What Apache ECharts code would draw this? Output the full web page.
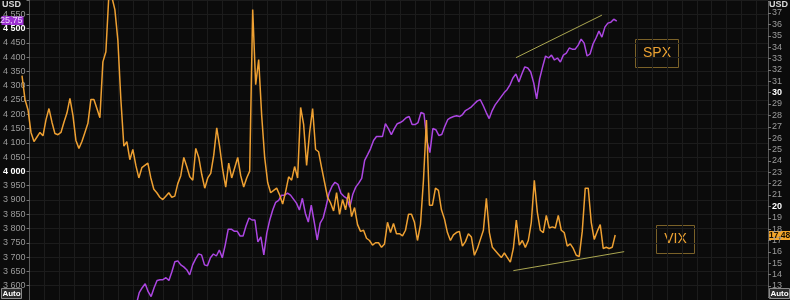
<!DOCTYPE html>
<html>
<head>
<meta charset="utf-8">
<script src="https://cdn.jsdelivr.net/npm/echarts@6/dist/echarts.min.js"></script>
<style>
html,body{margin:0;padding:0;background:#0b0b0b;}
#c{width:790px;height:300px;}
</style>
</head>
<body>
<div id="c"></div>
<script>
// ---- data ----
const N = 250;
const categories = Array.from({length: N}, (_, i) => String(i));
const vixValues = [
31.5,29.4,28.5,26.5,25.7,26.1,26.5,26.2,27.6,28.6,
27.4,26.4,26.3,26.5,27.4,28.2,29.5,28.0,25.8,25.1,
25.7,26.5,27.3,29.4,29.4,28.6,27.8,32.7,33.6,38.6,
38.4,37.3,34.6,29.4,25.3,25.7,24.1,25.0,23.6,22.5,
23.4,23.6,23.8,22.5,21.5,21.2,20.8,20.6,20.9,21.2,
20.8,20.9,22.0,22.7,24.3,23.5,22.6,22.3,25.1,24.3,
22.8,21.6,22.5,22.9,24.5,26.9,25.2,23.2,21.7,23.8,
22.5,23.4,24.3,22.7,21.7,22.5,23.1,37.3,30.7,32.9,
28.0,24.3,22.1,21.2,21.4,21.6,21.0,20.2,21.3,22.6,
22.3,23.5,22.5,28.7,27.2,23.6,26.5,28.6,25.0,24.8,
23.4,22.1,20.8,20.3,19.6,21.2,19.3,20.6,19.7,21.2,
19.1,19.9,18.4,17.8,17.9,17.2,17.0,16.6,16.8,16.8,
16.4,16.7,18.6,17.7,18.5,17.6,17.6,17.4,17.9,19.3,
19.3,18.6,17.0,18.4,22.3,27.6,20.1,20.1,21.6,21.4,
19.7,18.9,17.7,17.0,17.5,17.7,17.8,16.5,16.9,17.6,
17.3,15.7,16.3,17.1,17.9,20.7,17.7,16.4,16.1,15.8,
15.5,15.9,15.5,15.1,16.3,18.8,16.6,17.0,16.4,17.0,
18.6,22.3,19.5,17.9,17.7,19.2,18.1,18.2,18.1,19.2,
17.9,17.7,16.5,16.7,16.3,15.7,15.6,17.8,21.6,21.6,
18.6,17.1,17.8,18.4,16.3,16.4,16.3,16.4,17.48
];
const spxStart = 36;
const spxValues = [
3534,3576,3593,3607,3579,3562,3593,3618,3621,3621,
3628,3618,3649,3684,3687,3673,3666,3656,3638,3673,
3694,3711,3708,3673,3670,3698,3711,3704,3725,3698,
3743,3798,3798,3791,3791,3774,3774,3809,3837,3830,
3830,3753,3771,3708,3784,3830,3865,3892,3899,3917,
3917,3924,3917,3903,3889,3865,3906,3854,3823,3882,
3823,3760,3819,3837,3878,3924,3948,3962,3955,3924,
3913,3906,3875,3920,3945,3959,3976,4039,4059,4080,
4108,4122,4122,4122,4167,4150,4129,4150,4167,4171,
4178,4188,4192,4164,4164,4171,4206,4202,4108,4066,
4150,4146,4126,4129,4157,4181,4188,4192,4195,4192,
4199,4213,4219,4226,4237,4247,4251,4230,4206,4185,
4213,4233,4247,4261,4275,4286,4303,4327,4341,4313,
4341,4366,4362,4348,4310,4254,4324,4366,4404,4397,
4407,4390,4397,4383,4407,4414,4432,4428,4428,4442,
4463,4449,4404,4411,4446,4467,4491,4470,4505,4519,
4522,4533,4525.75
];
const spxTrend = [[164, 4398], [193, 4547]];
const vixTrend = [[164, 14.35], [201, 16.02]];
const leftTicks = {min: 3550, max: 4600, step: 50, bold: [4000, 4500]};
const rightTicks = {min: 12, max: 38, step: 1, bold: [20, 30]};
const spxLast = '25,75';
const vixLast = '17,48';

// ---- build ----
const pad = (arr, before) => Array(before).fill(null).concat(arr).concat(Array(Math.max(0, N - before - arr.length)).fill(null));
const vixData = pad(vixValues, 0);
const spxData = pad(spxValues, spxStart);

function fmtLeft(v) {
  if (v === leftTicks.min || v === leftTicks.max) return '';
  const s = String(v);
  const t = s.length > 3 ? s.slice(0, s.length - 3) + ' ' + s.slice(-3) : s;
  return leftTicks.bold.includes(v) ? '{b|' + t + '}' : t;
}
function fmtRight(v) {
  if (v === rightTicks.min || v === rightTicks.max) return '';
  return rightTicks.bold.includes(v) ? '{b|' + v + '}' : String(v);
}

const ORANGE = '#eea032', PURPLE = '#ac46e2', OLIVE = '#aaa650';
const labelFont = {fontSize: 9, color: '#9c9c9c', fontFamily: 'Liberation Sans, Arial, sans-serif'};

const chart = echarts.init(document.getElementById('c'), null, {renderer: 'canvas'});
chart.setOption({
  backgroundColor: '#0b0b0b',
  animation: false,
  grid: [
    {left: 22, right: 22, top: -1.37, bottom: -0.37, containLabel: false},
    {left: 22, right: 22, top: 1.625, bottom: 2.625, containLabel: false}
  ],
  xAxis: [
    {type: 'category', gridIndex: 0, data: categories, boundaryGap: false,
     axisLine: {show: false}, axisTick: {show: false}, axisLabel: {show: false},
     splitLine: {show: true, interval: 4, lineStyle: {color: '#1c1c1c', width: 1}}},
    {type: 'category', gridIndex: 1, data: categories, boundaryGap: false, show: false}
  ],
  yAxis: [
    {type: 'value', gridIndex: 0, position: 'left', min: leftTicks.min, max: leftTicks.max, interval: leftTicks.step,
     axisLine: {show: true, lineStyle: {color: '#5a5a5a'}},
     axisTick: {show: true, length: 3, lineStyle: {color: '#777'}},
     axisLabel: Object.assign({margin: 4, formatter: fmtLeft, rich: {b: {fontSize: 9, color: '#ffffff', fontWeight: 'bold'}}}, labelFont),
     splitLine: {show: true, lineStyle: {color: '#1c1c1c', width: 1}}},
    {type: 'value', gridIndex: 1, position: 'right', min: rightTicks.min, max: rightTicks.max, interval: rightTicks.step,
     axisLine: {show: true, lineStyle: {color: '#5a5a5a'}},
     axisTick: {show: true, length: 3, lineStyle: {color: '#777'}},
     axisLabel: Object.assign({margin: 4, formatter: fmtRight, rich: {b: {fontSize: 9, color: '#ffffff', fontWeight: 'bold'}}}, labelFont),
     splitLine: {show: false}}
  ],
  series: [
    {name: 'SPX', type: 'line', xAxisIndex: 0, yAxisIndex: 0, data: spxData, showSymbol: false, connectNulls: false,
     lineStyle: {color: PURPLE, width: 1.5}, itemStyle: {color: PURPLE},
     markLine: {silent: true, symbol: 'none', label: {show: false}, lineStyle: {color: OLIVE, width: 1, type: 'solid'},
       data: [[{coord: spxTrend[0]}, {coord: spxTrend[1]}]]}},
    {name: 'VIX', type: 'line', xAxisIndex: 1, yAxisIndex: 1, data: vixData, showSymbol: false, clip: false,
     lineStyle: {color: ORANGE, width: 1.5}, itemStyle: {color: ORANGE},
     markLine: {silent: true, symbol: 'none', label: {show: false}, lineStyle: {color: OLIVE, width: 1, type: 'solid'},
       data: [[{coord: vixTrend[0]}, {coord: vixTrend[1]}]]}}
  ],
  graphic: [
    {type: 'text', left: 2, top: 0, style: {text: 'USD', fill: '#d8d8d8', font: 'bold 9px Liberation Sans, Arial, sans-serif'}},
    {type: 'text', right: 2, top: 0, style: {text: 'USD', fill: '#d8d8d8', font: 'bold 9px Liberation Sans, Arial, sans-serif'}},
    {type: 'group', left: 0, top: 16, children: [
      {type: 'rect', shape: {x: 0, y: 0, width: 22, height: 9}, style: {fill: '#9a2fd0'}},
      {type: 'text', x: 21, y: 0.5, style: {text: spxLast, fill: '#f0d8ff', font: '9px Liberation Sans, Arial, sans-serif', textAlign: 'right'}}
    ]},
    {type: 'group', left: 768, top: 231, children: [
      {type: 'rect', shape: {x: 0, y: 0, width: 22, height: 9}, style: {fill: '#f3a52a'}},
      {type: 'text', x: 1, y: 0.5, style: {text: vixLast, fill: '#1a1000', font: 'bold 8.5px Liberation Sans, Arial, sans-serif'}}
    ]},
    {type: 'group', left: 1, top: 288, children: [
      {type: 'rect', shape: {x: 0, y: 0, width: 20, height: 10}, style: {fill: '#2a2a2a', stroke: '#8a8a8a', lineWidth: 1}},
      {type: 'text', x: 10, y: 1, style: {text: 'Auto', fill: '#ffffff', font: 'bold 8px Liberation Sans, Arial, sans-serif', textAlign: 'center'}}
    ]},
    {type: 'group', left: 769, top: 288, children: [
      {type: 'rect', shape: {x: 0, y: 0, width: 20, height: 10}, style: {fill: '#2a2a2a', stroke: '#8a8a8a', lineWidth: 1}},
      {type: 'text', x: 10, y: 1, style: {text: 'Auto', fill: '#ffffff', font: 'bold 8px Liberation Sans, Arial, sans-serif', textAlign: 'center'}}
    ]},
    {type: 'group', left: 635, top: 39, children: [
      {type: 'rect', shape: {x: 0.5, y: 0.5, width: 43, height: 28}, style: {fill: 'transparent', stroke: '#7a6128', lineWidth: 1}},
      {type: 'text', x: 22, y: 7, style: {text: 'SPX', fill: '#eca232', font: '14px Liberation Sans, Arial, sans-serif', textAlign: 'center'}}
    ]},
    {type: 'group', left: 656, top: 225, children: [
      {type: 'rect', shape: {x: 0.5, y: 0.5, width: 38, height: 28}, style: {fill: 'transparent', stroke: '#7a6128', lineWidth: 1}},
      {type: 'text', x: 19.5, y: 7, style: {text: 'VIX', fill: '#eca232', font: '14px Liberation Sans, Arial, sans-serif', textAlign: 'center'}}
    ]}
  ]
});
</script>
</body>
</html>
